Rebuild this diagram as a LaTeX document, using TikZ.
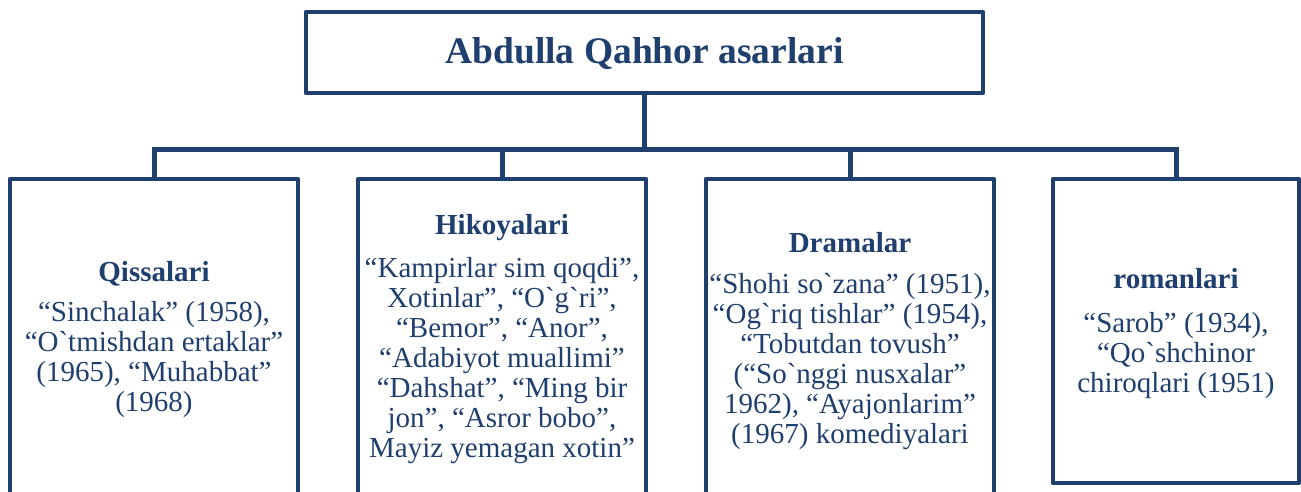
\documentclass[tikz,border=0pt]{standalone}
\usepackage{fontspec}
\newfontfamily\ser{Liberation Serif}
\definecolor{navy}{HTML}{1F3F6E}
\begin{document}
\begin{tikzpicture}[x=1pt,y=-1pt,
  boxstyle/.style={draw=navy, line width=4.5pt, fill=white, inner sep=0pt, rectangle, line join=round},
  conn/.style={draw=navy, line width=5pt},
  ttlstyle/.style={font=\ser\bfseries\fontsize{37.5}{40}\selectfont, text=navy, anchor=base, inner sep=0pt},
  head/.style={font=\ser\bfseries\fontsize{29}{30}\selectfont, text=navy, anchor=base, inner sep=0pt},
  body/.style={font=\ser\fontsize{29}{30}\selectfont, text=navy, align=center, anchor=base, inner sep=0pt}]
\useasboundingbox (0,0) rectangle (1301,492);
\clip (0,0) rectangle (1301,492);
% boxes
\node[boxstyle, minimum width=677pt, minimum height=81pt] (top) at (644.5,52.5) {};
\node[boxstyle, minimum width=288pt, minimum height=341pt] (b1) at (154,349.5) {};
\node[boxstyle, minimum width=288pt, minimum height=341pt] (b2) at (502,349.5) {};
\node[boxstyle, minimum width=288pt, minimum height=341pt] (b3) at (850,349.5) {};
\node[boxstyle, minimum width=246pt, minimum height=304pt] (b4) at (1176,331) {};
% connectors
\coordinate (j) at (top.south |- 0,149.5);
\draw[conn] (top.south) -- (j);
\draw[conn] (j) -| (b1.north);
\draw[conn] (j) -| (b2.north);
\draw[conn] (j) -| (b3.north);
\draw[conn] (j) -| (b4.north);
% texts (body nodes anchored at the baseline of their last line)
\node[ttlstyle] (ttl) at (644.5,64) {Abdulla Qahhor asarlari};
\node[head] (h1) at (154,281) {Qissalari};
\node[body] (t1) at (154,411) {“Sinchalak” (1958),\\“O`tmishdan ertaklar”\\(1965), “Muhabbat”\\(1968)};
\node[head] (h2) at (502,234) {Hikoyalari};
\node[body] (t2) at (502,457) {“Kampirlar sim qoqdi”,\\Xotinlar”, “O`g`ri”,\\“Bemor”, “Anor”,\\“Adabiyot muallimi”\\“Dahshat”, “Ming bir\\jon”, “Asror bobo”,\\Mayiz yemagan xotin”};
\node[head] (h3) at (850,252) {Dramalar};
\node[body] (t3) at (850,443) {“Shohi so`zana” (1951),\\“Og`riq tishlar” (1954),\\“Tobutdan tovush”\\(“So`nggi nusxalar”\\1962), “Ayajonlarim”\\(1967) komediyalari};
\node[head] (h4) at (1176,288) {romanlari};
\node[body] (t4) at (1176,392) {“Sarob” (1934),\\“Qo`shchinor\\chiroqlari (1951)};
\end{tikzpicture}
\end{document}
